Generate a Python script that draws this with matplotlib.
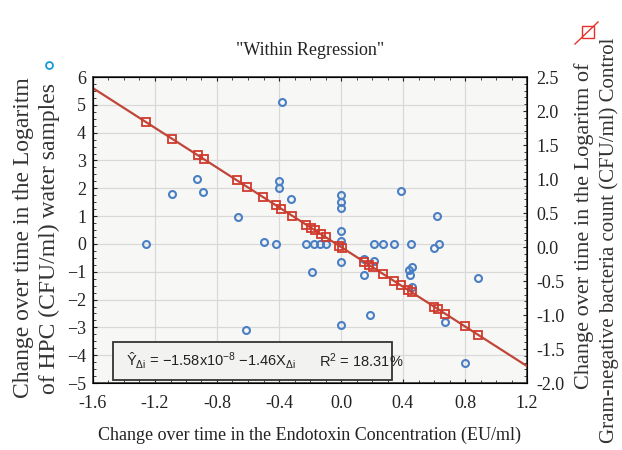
import numpy as np
import matplotlib
matplotlib.use("Agg")
import matplotlib.pyplot as plt
from matplotlib.lines import Line2D
from matplotlib.patches import Rectangle
from matplotlib.ticker import MultipleLocator

# HPC water samples (left axis)
hpc_x = [-1.26, -1.09, -0.93, -0.89, -0.665, -0.61, -0.50, -0.42, -0.40, -0.40,
         -0.38, -0.32, -0.226, -0.19, -0.174, -0.135, -0.097, 0.0, 0.0, 0.0,
         0.0, 0.0, 0.0, 0.0, 0.15, 0.15, 0.19, 0.21, 0.21, 0.27,
         0.34, 0.39, 0.44, 0.445, 0.45, 0.46, 0.46, 0.60, 0.62, 0.63,
         0.67, 0.80, 0.884]
hpc_y = [0.0, 1.8, 2.34, 1.87, 0.97, -3.1, 0.07, 0.0, 2.27, 2.01,
         5.1, 1.62, 0.0, -1.0, 0.0, 0.0, 0.0, 1.76, 1.51, 1.29,
         0.47, 0.1, -0.65, -2.9, -0.55, -1.1, -2.55, -0.6, 0.0, 0.0,
         0.0, 1.91, -0.94, -1.1, 0.0, -0.84, -1.55, -0.15, 1.0, 0.0,
         -2.8, -4.28, -1.22]

# Gram-negative control (right axis), fitted values on the regression line
gn_x = [-1.258, -1.09, -0.923, -0.884, -0.671, -0.606, -0.503, -0.419, -0.387, -0.316,
        -0.226, -0.194, -0.168, -0.129, -0.097, -0.013, 0.006, 0.148, 0.181, 0.206,
        0.271, 0.342, 0.387, 0.432, 0.458, 0.6, 0.626, 0.671, 0.8, 0.884]
intercept = -1.58e-8
slope = -1.46

x_ticks = [-1.6, -1.2, -0.8, -0.4, 0.0, 0.4, 0.8, 1.2]
left_ticks = list(range(-5, 7))
right_ticks = [-2.0, -1.5, -1.0, -0.5, 0.0, 0.5, 1.0, 1.5, 2.0, 2.5]

plt.rcParams['font.family'] = 'Liberation Serif'
plt.rcParams['mathtext.fontset'] = 'custom'
plt.rcParams['mathtext.rm'] = 'Liberation Sans'
plt.rcParams['mathtext.it'] = 'Liberation Sans'

W, H = 622, 450
fig = plt.figure(figsize=(W / 100, H / 100), dpi=100)
ax = fig.add_axes([93 / W, 1 - 383 / H, 434 / W, 306 / H])
ax.set_facecolor('#f7f7f5')
ax.set_xlim(-1.6, 1.2)
ax.set_ylim(-5, 6)
ax.set_xticks(x_ticks)
ax.set_xticklabels([f'{t:.1f}' for t in x_ticks])
ax.set_yticks(left_ticks)
ax.xaxis.set_minor_locator(MultipleLocator(0.1))
ax.yaxis.set_minor_locator(MultipleLocator(0.25))
ax.grid(True, color='#d9d9d9', lw=0.9)
ax.set_axisbelow(True)
ax.tick_params(which='both', direction='in', top=True, labelsize=13, colors='#222222')
ax.tick_params(which='major', length=3)
ax.tick_params(which='minor', length=2)
ax.tick_params(axis='x', which='major', pad=9)
ax.tick_params(axis='y', which='major', pad=5)
for s in ax.spines.values():
    s.set_color('#333333')
    s.set_linewidth(1.2)

ax.plot(hpc_x, hpc_y, 'o', ms=5, mfc='none', mec='#4a7fc4', mew=1.5, zorder=3)

ax2 = ax.twinx()
ax2.set_ylim(-2.0, 2.5)
ax2.set_yticks(right_ticks)
ax2.set_yticklabels([f'{t:.1f}' for t in right_ticks])
ax2.yaxis.set_minor_locator(MultipleLocator(0.1))
ax2.tick_params(which='both', direction='in', labelsize=13, colors='#222222')
ax2.tick_params(which='major', length=3, pad=7)
ax2.tick_params(which='minor', length=2)

line_x = np.array(ax.get_xlim())
ax2.plot(line_x, intercept + slope * line_x, color='#c0463a', lw=1.6, zorder=2)
gx = np.array(gn_x)
ax2.plot(gx, intercept + slope * gx, 's', ms=6, mfc='none', mec='#d03a2c', mew=1.3, zorder=3)

ax.set_xlabel('Change over time in the Endotoxin Concentration (EU/ml)', fontsize=13,
              labelpad=10, color='#222222')
ax.set_title('"Within Regression"', fontsize=13, pad=16, color='#222222')

# equation box
ax.add_patch(Rectangle((0.046, 0.01), 0.643, 0.124, transform=ax.transAxes,
                       facecolor='#f2f2f0', edgecolor='#333333', lw=1.3, zorder=5))
ax.text(0.075, 0.072, r'$\hat{\mathrm{Y}}_{\Delta i}$ = $-$1.58x10$^{-8}$ $-$1.46X$_{\Delta i}$',
        transform=ax.transAxes, family='Liberation Sans', fontsize=10.5, va='center',
        zorder=6, color='#222222')
ax.text(0.52, 0.072, r'R$^{2}$ = 18.31%', transform=ax.transAxes, family='Liberation Sans',
        fontsize=10.5, va='center', zorder=6, color='#222222')

# y labels with legend markers
fig.text(24 / W, 1 - 238 / H, 'Change over time in the Logaritm', rotation=90,
         ha='center', va='center', fontsize=17, color='#333333')
fig.text(49 / W, 1 - 238 / H, 'of HPC (CFU/ml) water samples', rotation=90,
         ha='center', va='center', fontsize=17, color='#333333')
fig.add_artist(Line2D([49 / W], [1 - 65 / H], marker='o', ms=5, mfc='none',
                      mec='#1b9ad8', mew=1.3, transform=fig.transFigure))

fig.text(584 / W, 1 - 226 / H, 'Change over time in the Logaritm of', rotation=90,
         ha='center', va='center', fontsize=16, color='#333333')
fig.text(609 / W, 1 - 240 / H, 'Gram-negative bacteria count (CFU/ml) Control', rotation=90,
         ha='center', va='center', fontsize=15, color='#333333')
fig.add_artist(Line2D([588 / W], [1 - 32 / H], marker='s', ms=9, mfc='none',
                      mec='#e8302a', mew=1.0, transform=fig.transFigure))
fig.add_artist(Line2D([575 / W, 598 / W], [1 - 44 / H, 1 - 22 / H], color='#e8302a',
                      lw=1.0, transform=fig.transFigure))

fig.savefig('out.png', dpi=100, facecolor='white')
